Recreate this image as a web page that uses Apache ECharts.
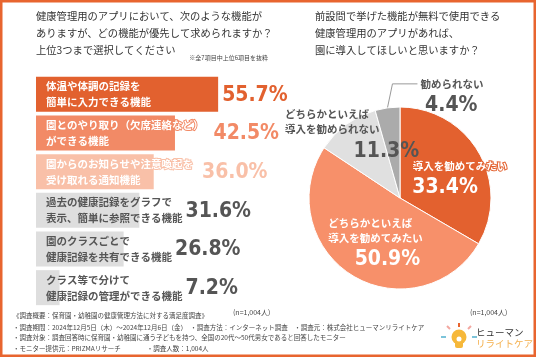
<!DOCTYPE html>
<html><head><meta charset="utf-8">
<script src="https://cdn.jsdelivr.net/npm/echarts@6/dist/echarts.min.js"></script>
<style>html,body{margin:0;padding:0;background:#fff}#c{width:536px;height:357px}</style>
</head><body><div id="c"></div>
<script>
// ---- data ----
const barCategories = [
  '体温や体調の記録を\n簡単に入力できる機能',
  '園とのやり取り（欠席連絡など）\nができる機能',
  '園からのお知らせや注意喚起を\n受け取れる通知機能',
  '過去の健康記録をグラフで\n表示、簡単に参照できる機能',
  '園のクラスごとで\n健康記録を共有できる機能',
  'クラス等で分けて\n健康記録の管理ができる機能'
];
const barValues = [55.7, 42.5, 36.0, 31.6, 26.8, 7.2];
const pieNames = ['導入を勧めてみたい', 'どちらかといえば\n導入を勧めてみたい', 'どちらかといえば\n導入を勧められない', '勧められない'];
const pieValues = [33.4, 50.9, 11.3, 4.4];
const leftTitle = '健康管理用のアプリにおいて、次のような機能が\nありますが、どの機能が優先して求められますか？\n上位3つまで選択してください';
const leftNote = '※全7項目中上位6項目を抜粋';
const rightTitle = '前設問で挙げた機能が無料で使用できる\n健康管理用のアプリがあれば、\n園に導入してほしいと思いますか？';
const sampleNote = '(n=1,004人)';
const footerLines = [
  '《調査概要：保育園・幼稚園の健康管理方法に対する満足度調査》',
  '・調査期間：2024年12月5日（木）～2024年12月6日（金）　・調査方法：インターネット調査　・調査元：株式会社ヒューマンリライトケア',
  '・調査対象：調査回答時に保育園・幼稚園に通う子どもを持つ、全国の20代～50代男女であると回答したモニター',
  '・モニター提供元：PRIZMAリサーチ　　　　・調査人数：1,004人'
];
const logoTop = 'ヒューマン';
const logoBottom = 'リライトケア';

// ---- styles ----
const JP = "'Noto Sans CJK JP', 'Noto Sans', sans-serif";
const NUM = "'Liberation Sans Narrow', 'DejaVu Sans Condensed', Roboto, sans-serif";
const barColors = ['#E2612F', '#F28A66', '#F9C0A8', '#DEDEDE', '#DEDEDE', '#DEDEDE'];
const barTextColors = ['#fff', '#fff', '#fff', '#555', '#555', '#555'];
const valueColors = ['#E2612F', '#F28A66', '#F9C0A8', '#555', '#555', '#555'];
const valueGap = [4, 10, 9, 3, 3, 3];
const pieColors = ['#E3612F', '#F7906A', '#E0E0E0', '#ABABAB'];
const pieTextColors = ['#fff', '#fff', '#555', '#555'];
const pieNameShift = [[18, -8], [1, -9], [-39, -37], [33, -24]];
const pieValueShift = [[3, 14], [13, 20], [15, -7], [58, -44]];
const catFontSize = 10.5;

function measure(s, font) {
  const ctx = document.createElement('canvas').getContext('2d');
  ctx.font = font;
  return Math.max(...s.split('\n').map(l => ctx.measureText(l).width));
}

const chart = echarts.init(document.getElementById('c'));

function buildOption(valueOffsets, withPie) {
  const series = [
    {
      type: 'bar', barWidth: 35, z: 2,
      data: barValues.map((v, i) => ({
        value: v,
        itemStyle: { color: barColors[i] },
        label: {
          color: barTextColors[i],
          textBorderColor: i < 3 ? barColors[i] : 'transparent',
          textBorderWidth: i < 3 ? 2 : 0
        }
      })),
      label: {
        show: true, position: 'insideLeft', distance: 10,
        formatter: p => barCategories[p.dataIndex],
        fontSize: catFontSize, fontWeight: 'bold', fontFamily: JP, lineHeight: 16
      }
    },
    {
      type: 'bar', barWidth: 35, barGap: '-100%', z: 1, silent: true,
      itemStyle: { color: 'transparent' },
      data: barValues.map((v, i) => ({
        value: v,
        label: { color: valueColors[i], offset: [valueOffsets[i], 1] }
      })),
      label: {
        show: true, position: 'insideLeft', distance: 0,
        formatter: p => p.value.toFixed(1) + '%',
        fontSize: 21, fontWeight: 'bold', fontFamily: NUM
      }
    }
  ];
  if (withPie) {
    // slices + category names
    series.push({
      type: 'pie', center: [400, 198], radius: 91, startAngle: 90, clockwise: true, z: 2,
      itemStyle: { borderColor: '#fff', borderWidth: 1 },
      labelLine: { show: false },
      data: pieValues.map((v, i) => ({
        name: pieNames[i], value: v,
        itemStyle: { color: pieColors[i] },
        labelLine: i === 3 ? { show: true, length: 10, length2: 10, lineStyle: { color: '#999', width: 1 } } : { show: false },
        label: {
          show: true,
          position: i === 3 ? 'outside' : 'inside',
          formatter: p => p.name.split('\n').map(l => '{n|' + l + '}').join('\n'),
          rich: {
            n: {
              color: pieTextColors[i], fontSize: 10.5, fontWeight: 'bold', fontFamily: JP, lineHeight: 15,
              align: 'left',
              textBorderColor: i === 0 ? pieColors[0] : 'transparent', textBorderWidth: i === 0 ? 2 : 0
            }
          }
        }
      })),
      labelLayout: function (p) {
        const i = p.dataIndex;
        if (i === 3 && p.labelLinePoints) {
          const p0 = p.labelLinePoints[0];
          const lx = p0[0] + pieNameShift[3][0], ly = p0[1] + pieNameShift[3][1];
          return {
            x: lx, y: ly, align: 'left', verticalAlign: 'middle',
            labelLinePoints: [p0, [p0[0] + 5, ly], [lx - 3, ly]]
          };
        }
        return { dx: pieNameShift[i][0], dy: pieNameShift[i][1] };
      }
    });
    // percentage labels (same slices, invisible)
    series.push({
      type: 'pie', center: [400, 198], radius: 91, startAngle: 90, clockwise: true, z: 3, silent: true,
      itemStyle: { color: 'rgba(0,0,0,0)', borderWidth: 0 },
      labelLine: { show: false },
      data: pieValues.map((v, i) => ({
        name: pieNames[i], value: v,
        label: { color: pieTextColors[i] }
      })),
      label: {
        show: true, position: 'inside',
        formatter: p => p.value.toFixed(1) + '%',
        fontSize: 21, fontWeight: 'bold', fontFamily: NUM
      },
      labelLayout: function (p) {
        const i = p.dataIndex;
        return { dx: pieValueShift[i][0], dy: pieValueShift[i][1] };
      }
    });
  }
  return {
    backgroundColor: '#fff',
    animation: false,
    grid: { left: 36, top: 75, width: 327, height: 232, containLabel: false },
    xAxis: { type: 'value', min: 0, max: 100, show: false },
    yAxis: { type: 'category', data: barCategories, inverse: true, show: false },
    series: series,
    graphic: [
      { type: 'rect', shape: { x: 1.25, y: 1.25, width: 533.5, height: 354.5 }, style: { fill: 'none', stroke: '#E8652F', lineWidth: 2.5 }, z: 10 },
      { type: 'text', x: 36, y: 8, style: { text: leftTitle, fontSize: 10.3, fontFamily: JP, fill: '#333', lineHeight: 17 } },
      { type: 'text', x: 268, y: 55, style: { text: leftNote, fontSize: 6, fontFamily: JP, fill: '#444', align: 'right' } },
      { type: 'text', x: 315, y: 8, style: { text: rightTitle, fontSize: 10.3, fontFamily: JP, fill: '#333', lineHeight: 17 } },
      { type: 'text', x: 233, y: 309, style: { text: sampleNote, fontSize: 7, fontFamily: JP, fill: '#444' } },
      { type: 'text', x: 470, y: 309, style: { text: sampleNote, fontSize: 7, fontFamily: JP, fill: '#444' } },
      ...footerLines.map((t, k) => ({ type: 'text', x: 13, y: [312, 324, 334, 345][k], style: { text: t, fontSize: 6.5, fontFamily: JP, fill: '#444' } })),
      // logo
      { type: 'line', shape: { x1: 459, y1: 323, x2: 459, y2: 327 }, style: { stroke: '#E8652F', lineWidth: 2 } },
      { type: 'line', shape: { x1: 447, y1: 326, x2: 450, y2: 329 }, style: { stroke: '#F3A7A0', lineWidth: 2 } },
      { type: 'line', shape: { x1: 471, y1: 326, x2: 468, y2: 329 }, style: { stroke: '#F3A7A0', lineWidth: 2 } },
      { type: 'line', shape: { x1: 441, y1: 337, x2: 446, y2: 337 }, style: { stroke: '#7CC4DA', lineWidth: 2 } },
      { type: 'line', shape: { x1: 472, y1: 337, x2: 477, y2: 337 }, style: { stroke: '#7CC4DA', lineWidth: 2 } },
      { type: 'circle', shape: { cx: 459, cy: 337, r: 7.5 }, style: { fill: '#F6B83A' } },
      { type: 'rect', shape: { x: 455, y: 341, width: 8, height: 7, r: 2 }, style: { fill: '#F6B83A' } },
      { type: 'circle', shape: { cx: 459, cy: 339, r: 2.5 }, style: { fill: '#fff' } },
      { type: 'text', x: 476, y: 328, style: { text: logoTop, fontSize: 9.5, fontFamily: JP, fill: '#333' } },
      { type: 'text', x: 476, y: 339, style: { text: logoBottom, fontSize: 9.5, fontFamily: JP, fill: '#F4B04E' } }
    ]
  };
}

// first pass (bars only) to read the bar scale, then full render
chart.setOption(buildOption(barValues.map(() => 0), false));
const x0 = chart.convertToPixel({ gridIndex: 0 }, [0, 0])[0];
const catFont = 'bold ' + catFontSize + 'px ' + JP;
const offsets = barValues.map((v, i) => {
  const barPx = chart.convertToPixel({ gridIndex: 0 }, [v, 0])[0] - x0;
  const tw = measure(barCategories[i], catFont);
  return Math.max(barPx + 4, 10 + tw + valueGap[i]);
});
chart.clear();
chart.setOption(buildOption(offsets, true), true);
</script></body></html>
